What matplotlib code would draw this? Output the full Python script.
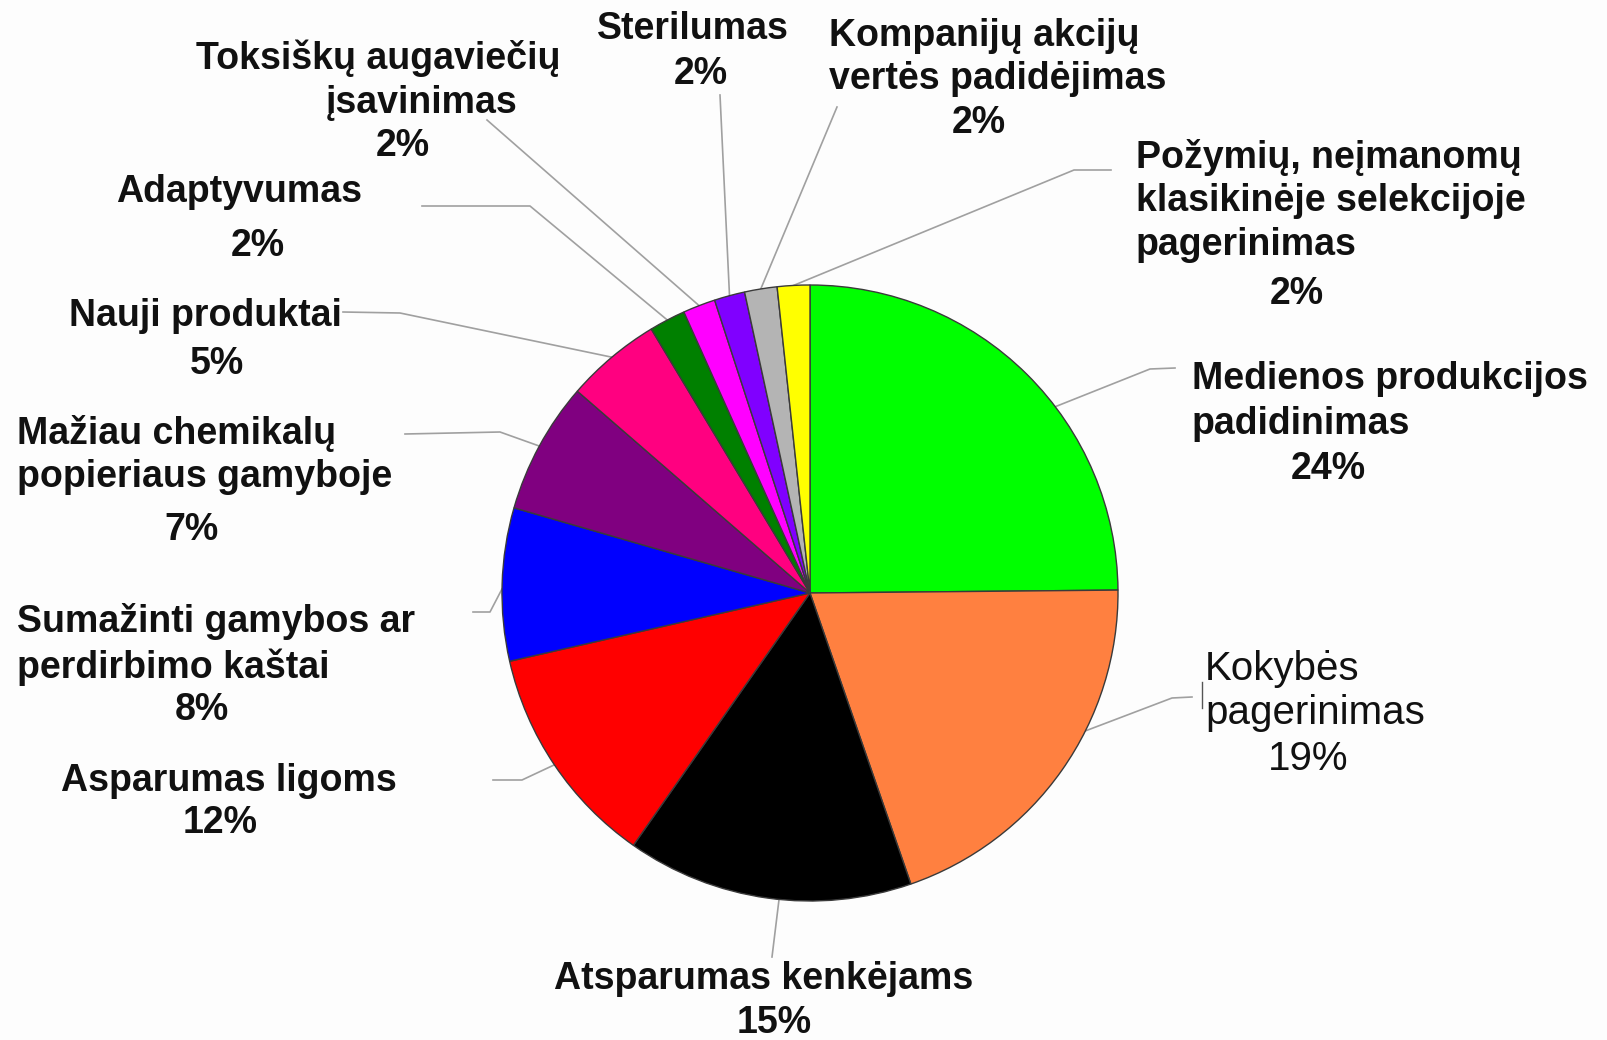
import numpy as np
import matplotlib
matplotlib.use("Agg")
import matplotlib.pyplot as plt

plt.rcParams['font.family'] = ['Liberation Sans', 'DejaVu Sans']

# slice shares as measured on the pie (clockwise from 12 o'clock)
shares = [24.8, 19.8, 15.0, 11.7, 8.0, 6.9, 5.0, 1.9, 1.7, 1.6, 1.7, 1.7]
pct_labels = ['24%', '19%', '15%', '12%', '8%', '7%', '5%', '2%', '2%', '2%', '2%', '2%']
names = [
    'Medienos produkcijos\npadidinimas',
    'Kokybės\npagerinimas',
    'Atsparumas kenkėjams',
    'Asparumas ligoms',
    'Sumažinti gamybos ar\nperdirbimo kaštai',
    'Mažiau chemikalų\npopieriaus gamyboje',
    'Nauji produktai',
    'Adaptyvumas',
    'Toksiškų augaviečių\nįsavinimas',
    'Sterilumas',
    'Kompanijų akcijų\nvertės padidėjimas',
    'Požymių, neįmanomų\nklasikinėje selekcijoje\npagerinimas',
]
colors = ['#00ff00', '#ff8040', '#000000', '#ff0000', '#0000ff', '#800080',
          '#ff0080', '#008000', '#ff00ff', '#8000ff', '#b4b4b4', '#ffff00']

W, H = 1608, 1040
CX, CY, R = 810, 593, 308   # pie centre / radius in image pixels (y down)

# label layout: name lines (x, y, ha, step), percent (x, y), leader path, where on the wedge
layout = [
    dict(name=(1192, 379, 'left', 45), pct=(1328, 469), path=[(1175, 368), (1150, 369)], at=0.59),
    dict(name=(1205, 669, 'left', 44), pct=(1308, 759), path=[(1192, 697), (1172, 698)], at=0.38),
    dict(name=(764, 979, 'center', 44), pct=(774, 1023), path=[(772, 957)], at=0.46),
    dict(name=(229, 781, 'center', 44), pct=(220, 823), path=[(493, 780), (522, 780)], at=0.5),
    dict(name=(17, 622, 'left', 45), pct=(202, 710), path=[(473, 612), (490, 612)], at=0.47),
    dict(name=(17, 433, 'left', 44), pct=(192, 530), path=[(405, 434), (500, 432)], at=0.5),
    dict(name=(205, 316, 'center', 44), pct=(217, 364), path=[(343, 312), (400, 313)], at=0.5),
    dict(name=(239, 192, 'center', 44), pct=(258, 246), path=[(422, 206), (530, 206)], at=0.5),
    dict(name=(378, 58, 'center', 45), pct=(403, 146), path=[(487, 120)], at=0.5),
    dict(name=(693, 29, 'center', 44), pct=(701, 74), path=[(720, 95)], at=0.5),
    dict(name=(829, 36, 'left', 43), pct=(979, 123), path=[(837, 107)], at=0.5),
    dict(name=(1136, 157, 'left', 44), pct=(1297, 294), path=[(1111, 170), (1074, 170)], at=0.5),
]
# second line of the Toksiškų label sits a bit right of centre
name_dx = {8: [0, 44]}
# Kokybės label is set in a lighter, slightly larger type
light = {1: 29}

fig = plt.figure(figsize=(16.08, 10.40), dpi=100, facecolor='#fdfdfd')
ax = fig.add_axes([0, 0, 1, 1])
ax.set_facecolor('#fdfdfd')

wedges, _ = ax.pie(shares, colors=colors, startangle=90, counterclock=False,
                   center=(CX, H - CY), radius=R,
                   wedgeprops=dict(edgecolor='#3a3a3a', linewidth=1.0))
ax.set_xlim(0, W)
ax.set_ylim(0, H)
ax.set_aspect('equal')
ax.axis('off')

for i, (w, lay) in enumerate(zip(wedges, layout)):
    # leader line: text side points then to the wedge rim
    ang = np.deg2rad(w.theta2 - lay['at'] * (w.theta2 - w.theta1))
    ex = w.center[0] + w.r * np.cos(ang)
    ey = w.center[1] + w.r * np.sin(ang)
    xs = [p[0] for p in lay['path']] + [ex]
    ys = [H - p[1] for p in lay['path']] + [ey]
    ax.plot(xs, ys, color='#a0a0a0', lw=1.2, zorder=0)

    if i in light:
        txt = dict(fontsize=light[i], fontweight='normal', color='#111111', va='center')
    else:
        txt = dict(fontsize=27, fontweight='bold', color='#111111', va='center')

    x0, y0, ha, step = lay['name']
    for k, line in enumerate(names[i].split('\n')):
        dx = name_dx.get(i, [0] * 5)[k]
        ax.text(x0 + dx, H - (y0 + k * step), line, ha=ha, **txt)
    px, py = lay['pct']
    ax.text(px, H - py, pct_labels[i], ha='center', **txt)

# small text-cursor mark left of the Kokybės label
ax.plot([1202, 1202], [H - 682, H - 708], color='#555555', lw=1.0)

fig.savefig('out.png', dpi=100, facecolor=fig.get_facecolor())
